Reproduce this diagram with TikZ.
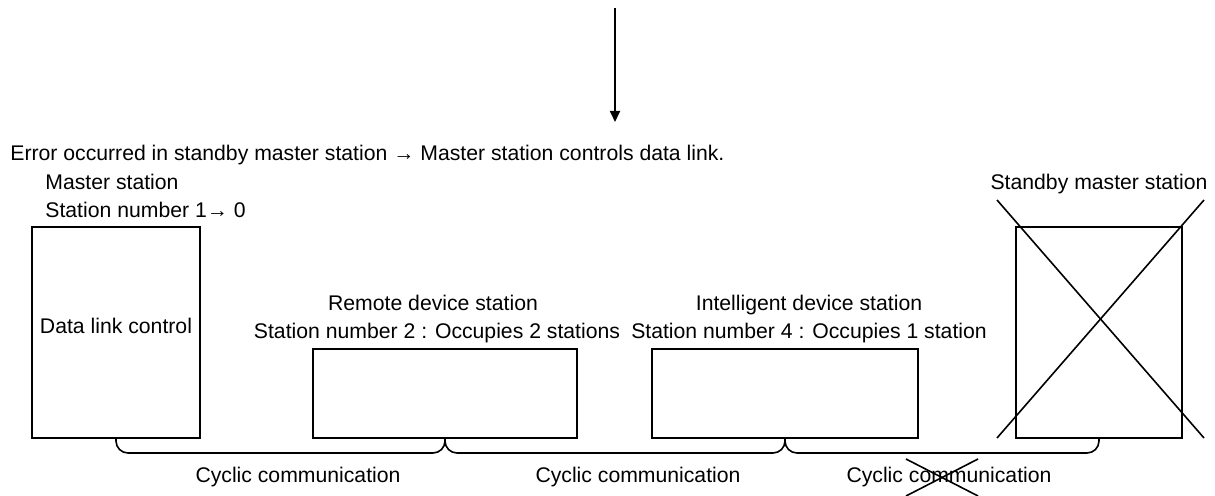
\documentclass[tikz,border=0pt]{standalone}
\usepackage{fontspec}
\setmainfont{Liberation Sans}
\usetikzlibrary{arrows.meta}
\tikzset{
  stationbox/.style={draw, line width=0.8pt, inner sep=0pt, outer sep=0pt},
  lbl/.style={inner sep=0pt, anchor=base},
  lblw/.style={inner sep=0pt, anchor=base west},
  link/.style={line width=0.8pt, rounded corners=6pt},
  xline/.style={line width=0.8pt},
}
\begin{document}
\begin{tikzpicture}[x=0.5pt, y=-0.5pt, font=\fontsize{10.6}{12.7}\selectfont]
\useasboundingbox (0,0) rectangle (1215,496);

% incoming arrow from the previous step
\coordinate (arrTop) at (615,8);
\coordinate (arrEnd) at (615,122);
\draw[line width=0.9pt, -{Triangle[width=5pt,length=5.5pt]}] (arrTop) -- (arrEnd);

\node[lblw] (head) at (10,161) {Error occurred in standby master station → Master station controls data link.};

% master station
\node[lblw] (mtitle) at (45,190) {Master station};
\node[lblw] (mnum) at (45,218) {Station number 1→ 0};
\node[stationbox, minimum width=84pt, minimum height=105.5pt] (master) at (116,332.5) {};
\node[lbl] (mtext) at (116,334) {Data link control};

% remote device station
\node[lbl] (rtitle) at (433,310.5) {Remote device station};
\node[lbl] (rnum) at (437,339) {Station number 2 : Occupies 2 stations};
\node[stationbox, minimum width=132pt, minimum height=44.5pt] (remote) at (445,393.5) {};

% intelligent device station
\node[lbl] (ititle) at (809,310.5) {Intelligent device station};
\node[lbl] (inum) at (809,339) {Station number 4 : Occupies 1 station};
\node[stationbox, minimum width=133pt, minimum height=44.5pt] (intel) at (785,393.5) {};

% standby master station (failed)
\node[lbl] (stitle) at (1099,190) {Standby master station};
\node[stationbox, minimum width=83pt, minimum height=105.5pt] (standby) at (1099,332.5) {};
\draw[xline] (997,200) -- (1204,438);
\draw[xline] (1204,200) -- (997,438);

% cyclic communication links
\draw[link] (master.south) -- (master.south |- 0,453) -- (remote.south |- 0,453) -- (remote.south);
\draw[link] (remote.south) -- (remote.south |- 0,453) -- (intel.south |- 0,453) -- (intel.south);
\draw[link] (intel.south) -- (intel.south |- 0,453) -- (standby.south |- 0,453) -- (standby.south);

\node[lbl] (c1) at (298,482) {Cyclic communication};
\node[lbl] (c2) at (638,482) {Cyclic communication};
\node[lbl] (c3) at (949,482) {Cyclic communication};

% third link is broken
\draw[xline] (906,459) -- (978,496);
\draw[xline] (978,459) -- (906,496);
\end{tikzpicture}
\end{document}
